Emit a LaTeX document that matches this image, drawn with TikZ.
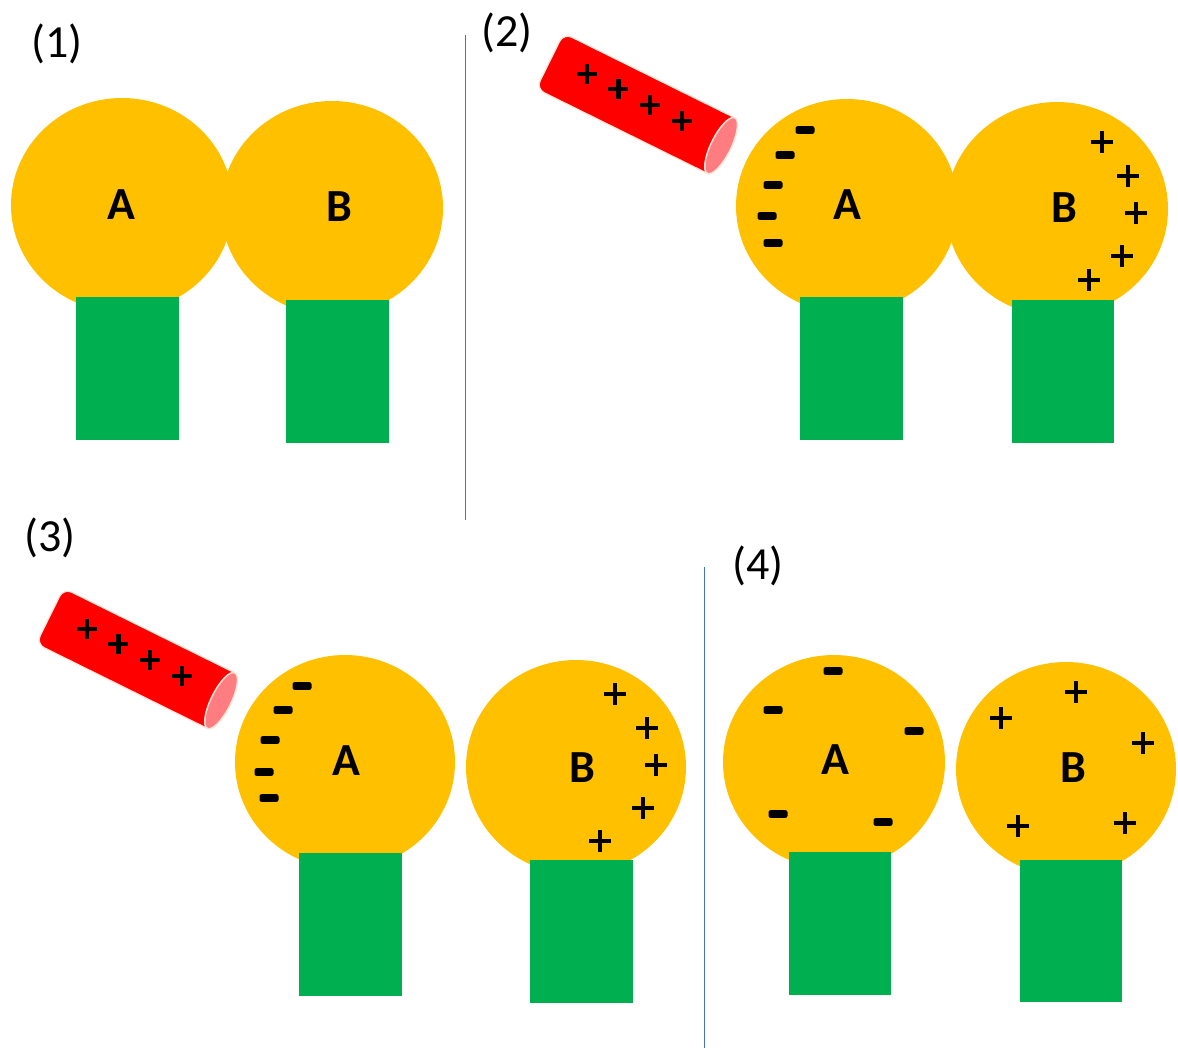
\documentclass[tikz,border=0pt]{standalone}
\usepackage{fontspec}
\setmainfont{Carlito}
\definecolor{sphere}{HTML}{FFC000}
\definecolor{stand}{HTML}{00B050}
\definecolor{rodred}{HTML}{FF0000}
\definecolor{rodface}{HTML}{FF7C80}
\definecolor{rodrim}{HTML}{FCE4D6}
\definecolor{divider}{HTML}{4472C4}
\tikzset{
  ball/.style={fill=sphere},
  post/.style={fill=stand},
  steplabel/.style={font=\fontsize{46}{50}\selectfont, inner sep=0pt},
  balllabel/.style={font=\fontsize{46}{50}\selectfont\bfseries, inner sep=0pt},
  sep/.style={draw=divider, line width=1pt},
  negch/.pic={\fill[black, rounded corners=2pt] (-9.5,-3.8) rectangle (9.5,3.8);},
  posch/.pic={\draw[black, line width=4.6pt] (-11,0) -- (11,0) (0,-11) -- (0,11);},
  rodch/.pic={\draw[black, line width=4.2pt] (-10,0) -- (10,0) (0,-10) -- (0,10);},
  chargedrod/.pic={
    \fill[rodred, draw=rodrim, line width=1.2pt, rounded corners=9pt]
      (189,-31) -- (-2,-31) -- (-2,31) -- (189,31);
    \fill[rodface, draw=rodrim, line width=1.5pt] (189,0) ellipse [x radius=10, y radius=31];
    \foreach \p in {37,72,107,143} \pic at (\p,-5) {rodch};
  }
}
\begin{document}
\begin{tikzpicture}[x=1pt, y=-1pt]
\useasboundingbox (0,0) rectangle (1178,1050);

% panel dividers
\draw[sep] (465,35) -- (465,520);
\draw[sep] (704,567) -- (704,1048);

% (1) two touching spheres, uncharged
\fill[ball] (122,205) ellipse [x radius=111, y radius=107];
\fill[ball] (332,208) ellipse [x radius=111, y radius=107];
\fill[post] (76,297) rectangle (179,440);
\fill[post] (286,300) rectangle (389,443);
\node[balllabel] (a1) at (121,205) {A};
\node[balllabel] (b1) at (339,207) {B};
\node[steplabel] (s1) at (57,44) {(1)};

% (2) charged rod brought near, charges separate
\pic[rotate=-26.3] at (551.7,61.9) {chargedrod};
\fill[ball] (847,206) ellipse [x radius=111, y radius=107];
\fill[ball] (1057,209) ellipse [x radius=111, y radius=107];
\fill[post] (800,297) rectangle (903,440);
\fill[post] (1012,300) rectangle (1114,443);
\node[balllabel] (a2) at (847,205) {A};
\node[balllabel] (b2) at (1064,208) {B};
\node[steplabel] (s2) at (507,33) {(2)};
\foreach \q in {(805,130),(785,155),(773,185),(767,216),(773,243)} \pic at \q {negch};
\foreach \q in {(1102,142),(1128,176),(1136,213),(1122,256),(1089,280)} \pic at \q {posch};

% (3) spheres separated while the rod stays
\pic[rotate=-26.3] at (51.7,616.9) {chargedrod};
\fill[ball] (345,762) ellipse [x radius=110, y radius=107];
\fill[ball] (576,767) ellipse [x radius=110, y radius=107];
\fill[post] (299,853) rectangle (402,996);
\fill[post] (530,860) rectangle (633,1003);
\node[balllabel] (a3) at (346,761) {A};
\node[balllabel] (b3) at (582,768) {B};
\node[steplabel] (s3) at (50,538) {(3)};
\foreach \q in {(302,686),(283,710),(270,740),(264,772),(269,798)} \pic at \q {negch};
\foreach \q in {(615,694),(647,728),(656,765),(643,808),(600,841)} \pic at \q {posch};

% (4) rod removed, charges spread out
\fill[ball] (834,762) ellipse [x radius=111, y radius=107];
\fill[ball] (1066,769) ellipse [x radius=110, y radius=107];
\fill[post] (789,852) rectangle (891,995);
\fill[post] (1020,860) rectangle (1122,1002);
\node[balllabel] (a4) at (835,760) {A};
\node[balllabel] (b4) at (1073,768) {B};
\node[steplabel] (s4) at (758,566) {(4)};
\foreach \q in {(833,671),(773,710),(914,731),(778,814),(883,822)} \pic at \q {negch};
\foreach \q in {(1076,692),(1001,718),(1143,743),(1018,826),(1125,823)} \pic at \q {posch};
\end{tikzpicture}
\end{document}
